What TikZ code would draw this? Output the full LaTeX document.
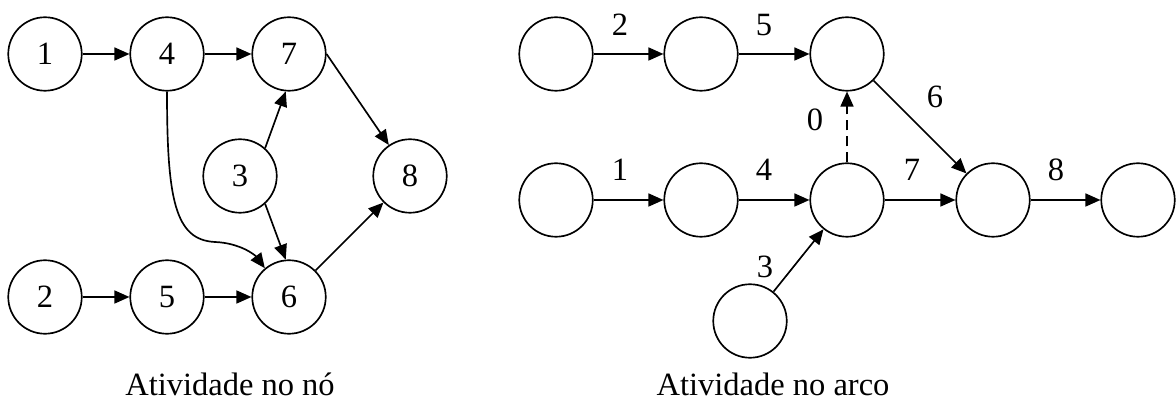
\documentclass[tikz,border=0pt]{standalone}
\usepackage{fontspec}
\setmainfont{Liberation Serif}
\usetikzlibrary{arrows.meta}
\begin{document}
\begin{tikzpicture}[x=0.02cm,y=-0.02cm,
  state/.style={draw,circle,line width=0.95pt,minimum size=1.47cm,inner sep=0pt,
                font=\fontsize{18.5}{22}\selectfont},
  arr/.style={line width=0.95pt,-{Triangle[length=0.3cm,width=0.26cm]}},
  lbl/.style={font=\fontsize{18.5}{22}\selectfont,inner sep=0pt},
  captext/.style={font=\fontsize{18.5}{22}\selectfont,inner sep=0pt,anchor=base}]
\useasboundingbox (0,0) rectangle (1176,401);

% activity on node
\node[state] (n1) at (45,54) {1};
\node[state] (n4) at (167,54) {4};
\node[state] (n7) at (289,54) {7};
\node[state] (n3) at (240,176) {3};
\node[state] (n8) at (410,176) {8};
\node[state] (n2) at (45,297) {2};
\node[state] (n5) at (167,297) {5};
\node[state] (n6) at (289,297) {6};

\draw[arr] (n1) -- (n4);
\draw[arr] (n4) -- (n7);
\draw[arr] (n2) -- (n5);
\draw[arr] (n5) -- (n6);
\draw[arr] (n3.48) -- (n7.265);
\draw[arr] (n3.-48) -- (n6.95);
\draw[arr] (n7.east) -- (n8);
\draw[arr] (n6) -- (n8);
\draw[arr] (n4.south) .. controls (167,200) and (175,240) .. (215,242)
           .. controls (240,243) and (255,255) .. (n6.130);

\node[captext] (capA) at (230,396) {Atividade no nó};

% activity on arc
\node[state] (a1) at (556,54) {};
\node[state] (a2) at (701,54) {};
\node[state] (a3) at (847,54) {};
\node[state] (b1) at (556,200) {};
\node[state] (b2) at (701,200) {};
\node[state] (b3) at (847,200) {};
\node[state] (b4) at (993,200) {};
\node[state] (b5) at (1138,200) {};
\node[state] (c1) at (750,321) {};

\draw[arr] (a1) -- (a2);
\draw[arr] (a2) -- (a3);
\draw[arr] (a3) -- (b4);
\draw[arr] (b1) -- (b2);
\draw[arr] (b2) -- (b3);
\draw[arr] (b3) -- (b4);
\draw[arr] (b4) -- (b5);
\draw[arr] (c1) -- (b3);
\draw[arr,dash pattern=on 0.2cm off 0.12cm] (b3) -- (a3);

\node[lbl] at (620,25) {2};
\node[lbl] at (764,25) {5};
\node[lbl] at (935,97) {6};
\node[lbl] at (815,120) {0};
\node[lbl] at (620,170) {1};
\node[lbl] at (764,170) {4};
\node[lbl] at (912,170) {7};
\node[lbl] at (1056,170) {8};
\node[lbl] at (765,267) {3};

\node[captext] (capB) at (773,396) {Atividade no arco};
\end{tikzpicture}
\end{document}
